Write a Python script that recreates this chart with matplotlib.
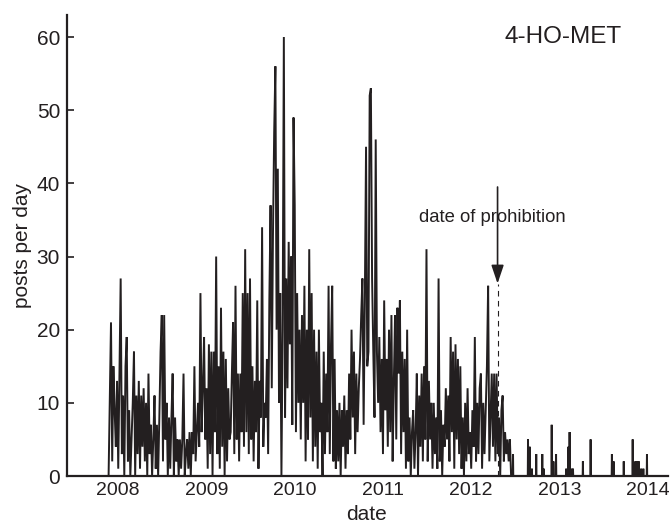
import matplotlib
matplotlib.use("Agg")
import matplotlib.pyplot as plt
import matplotlib.dates as mdates
import numpy as np
import pandas as pd

# ---- data ----
dense_start = "2007-11-23"
dense_step_days = 5
dense_values = [
    0, 11, 21, 2, 15, 9, 4, 13, 1, 14,
    27, 3, 11, 0, 15, 19, 2, 9, 0, 5,
    10, 17, 0, 11, 3, 13, 1, 11, 4, 12,
    2, 10, 0, 14, 3, 7, 0, 5, 11, 1,
    7, 0, 8, 17, 22, 2, 22, 5, 10, 0,
    8, 1, 8, 14, 0, 8, 2, 5, 0, 5,
    1, 5, 14, 0, 3, 5, 1, 6, 0, 6,
    3, 15, 2, 6, 10, 4, 25, 6, 12, 19,
    5, 12, 1, 18, 3, 17, 0, 17, 6, 30,
    3, 15, 1, 23, 4, 17, 0, 16, 2, 12,
    5, 6, 14, 21, 3, 26, 5, 14, 2, 14,
    6, 25, 4, 31, 6, 25, 3, 27, 5, 15,
    2, 13, 6, 24, 1, 13, 8, 34, 4, 10,
    8, 16, 3, 24, 37, 12, 33, 47, 56, 20,
    42, 10, 25, 0, 20, 60, 8, 27, 12, 32,
    18, 30, 7, 49, 37, 6, 25, 10, 20, 5,
    22, 10, 26, 2, 20, 5, 31, 8, 25, 2,
    20, 4, 17, 1, 20, 6, 10, 0, 17, 3,
    14, 6, 26, 3, 18, 26, 2, 16, 1, 9,
    2, 10, 0, 9, 4, 11, 1, 9, 3, 14,
    5, 20, 8, 17, 3, 14, 6, 12, 16, 22,
    27, 7, 24, 45, 15, 17, 52, 53, 27, 17,
    8, 46, 17, 10, 19, 6, 16, 3, 24, 9,
    16, 4, 20, 6, 22, 2, 13, 22, 5, 23,
    14, 24, 3, 17, 6, 16, 1, 20, 2, 8,
    0, 6, 9, 1, 6, 14, 0, 11, 4, 14,
    2, 15, 5, 31, 2, 13, 5, 10, 1, 10,
    3, 8, 1, 27, 2, 9, 0, 7, 4, 12,
    5, 11, 2, 19, 6, 17, 1, 18, 5, 16,
    3, 15, 1, 8, 0, 10, 2, 12, 3, 6,
    1, 9, 4, 19, 2, 10, 3, 12, 14, 1,
    10, 3, 9, 15, 26, 2, 8, 14, 4, 14,
    2, 14, 3, 8, 0, 9, 11, 2, 6, 3,
    5, 2, 5, 0,
]

sparse_end = "2014-01-05"
sparse_dates = [
    "2012-06-22", "2012-08-23", "2012-08-30", "2012-09-08", "2012-09-26",
    "2012-10-21", "2012-10-27", "2012-11-29", "2012-12-06", "2012-12-17",
    "2013-01-28", "2013-02-06", "2013-02-11", "2013-02-18", "2013-02-25",
    "2013-04-07", "2013-05-09", "2013-08-05", "2013-08-12", "2013-09-23",
    "2013-10-30", "2013-11-10", "2013-11-17", "2013-11-24", "2013-12-04",
    "2013-12-13", "2013-12-28",
]
sparse_values = [
    3, 5, 4, 1, 3,
    3, 1, 7, 2, 3,
    1, 4, 6, 1, 1,
    2, 5, 3, 2, 2,
    5, 2, 2, 2, 1,
    1, 3,
]

prohibition_date = "2012-04-19"
year_ticks = [2008, 2009, 2010, 2011, 2012, 2013, 2014]
y_ticks = [0, 10, 20, 30, 40, 50, 60]

# ---- build series ----
dense = pd.Series(dense_values,
                  index=pd.date_range(dense_start, periods=len(dense_values),
                                      freq=f"{dense_step_days}D"))
sparse_idx = pd.date_range(dense.index[-1] + pd.Timedelta(days=1), sparse_end, freq="D")
sparse = pd.Series(0.0, index=sparse_idx)
for d, v in zip(sparse_dates, sparse_values):
    sparse[pd.Timestamp(d)] = v
series = pd.concat([dense.astype(float), sparse])

# ---- figure ----
plt.rcParams['font.family'] = ['Liberation Sans', 'DejaVu Sans']
ink = '#231f20'

fig = plt.figure(figsize=(6.7, 5.25), dpi=100)
ax = fig.add_axes([0.1, 0.0933, 0.897, 0.878])

ax.plot(series.index, series.values, color=ink, lw=1.4, solid_joinstyle='miter')

pd_date = pd.Timestamp(prohibition_date)
ax.plot([pd_date, pd_date], [0, 26.3], color=ink, lw=0.8, ls=(0, (5, 4)), zorder=3)
ax.annotate('', xy=(pd_date, 26.3), xytext=(pd_date, 39.5),
            arrowprops=dict(arrowstyle='-|>,head_length=0.8,head_width=0.27',
                            mutation_scale=14, color=ink, lw=1.2,
                            shrinkA=0, shrinkB=0))
ax.text(pd.Timestamp("2012-03-29"), 35.4, 'date of prohibition', ha='center', va='center',
        fontsize=13.3, color=ink)
ax.text(pd.Timestamp("2013-01-17"), 60.0, '4-HO-MET', ha='center', va='center',
        fontsize=17.5, color=ink)

ax.set_xlim(pd.Timestamp("2007-06-04"), pd.Timestamp("2014-03-25"))
ax.set_ylim(0, 63)
ax.set_xticks([pd.Timestamp(f"{y}-01-01") for y in year_ticks])
ax.xaxis.set_major_formatter(mdates.DateFormatter('%Y'))
ax.set_yticks(y_ticks)

ax.tick_params(axis='y', direction='in', length=5, width=1.2, pad=5,
               labelsize=15, colors=ink)
ax.tick_params(axis='x', length=0, pad=4, labelsize=14, colors=ink)

for s in ['top', 'right']:
    ax.spines[s].set_visible(False)
for s in ['left', 'bottom']:
    ax.spines[s].set_linewidth(1.6)
    ax.spines[s].set_color(ink)

ax.set_ylabel('posts per day', fontsize=15, color=ink)
ax.yaxis.set_label_coords(-0.058, 0.5)
ax.set_xlabel('date', fontsize=15, color=ink)
ax.xaxis.set_label_coords(0.499, -0.063)

fig.savefig('out.png', dpi=100)
